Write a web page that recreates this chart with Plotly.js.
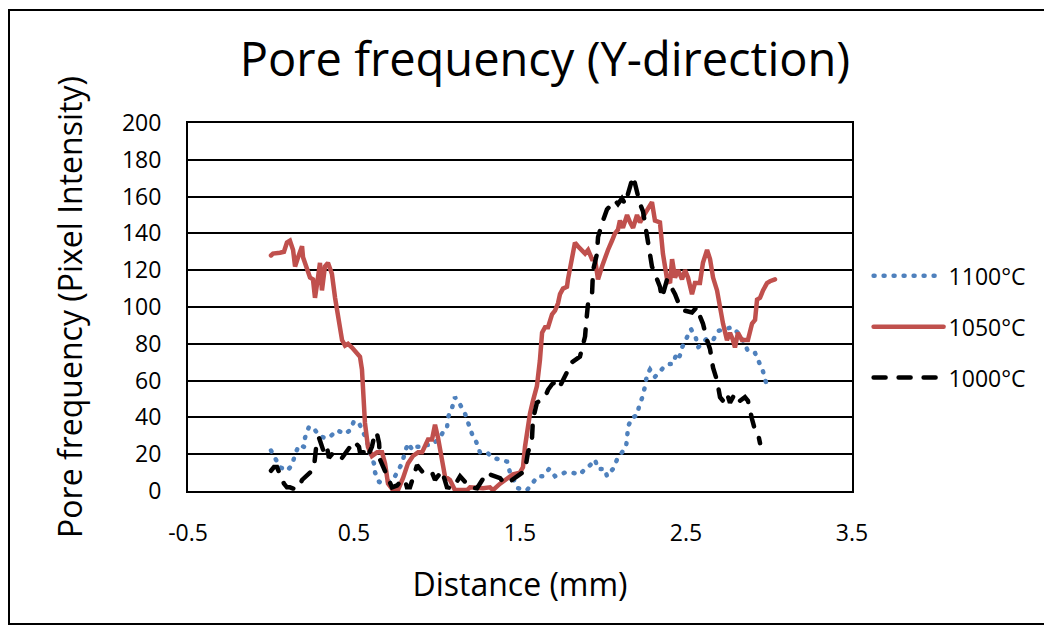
<!DOCTYPE html>
<html>
<head>
<meta charset="utf-8">
<script src="https://cdn.plot.ly/plotly-3.0.1.min.js"></script>
<style>
  html, body { margin: 0; padding: 0; background: #ffffff; overflow: hidden; }
  #wrap { position: relative; width: 1044px; height: 627px; overflow: hidden; }
  #chart { position: absolute; left: 0; top: 0; width: 1044px; height: 627px; }
  #frame { position: absolute; left: 8px; top: 9px; width: 1100px; height: 616px;
           border: 2px solid #000; pointer-events: none; box-sizing: border-box; }
  .js-line { stroke-linecap: round; }
</style>
</head>
<body>
<div id="wrap">
  <div id="chart"></div>
  <div id="frame"></div>
</div>
<script>
// ---- Data ----
const seriesNames = ["1100°C", "1050°C", "1000°C"];

const x1100 = [0.000,0.024,0.054,0.096,0.127,0.145,0.169,0.199,0.205,0.229,0.259,0.289,0.319,0.349,0.380,0.398,0.446,0.476,0.500,0.530,0.560,0.578,0.596,0.620,0.627,0.651,0.675,0.705,0.735,0.765,0.789,0.807,0.825,0.855,0.880,0.910,0.928,0.970,0.994,1.018,1.036,1.060,1.066,1.090,1.108,1.139,1.169,1.187,1.211,1.235,1.259,1.301,1.337,1.380,1.422,1.440,1.488,1.542,1.572,1.608,1.639,1.675,1.711,1.741,1.771,1.813,1.861,1.892,1.922,1.952,1.970,2.012,2.024,2.060,2.084,2.114,2.139,2.145,2.151,2.175,2.205,2.217,2.241,2.253,2.265,2.283,2.301,2.313,2.343,2.373,2.398,2.422,2.440,2.458,2.476,2.500,2.530,2.560,2.572,2.596,2.627,2.663,2.693,2.735,2.777,2.813,2.849,2.873,2.916,2.940,2.964,2.982];
const y1100 = [22,18,13,11,14,20,25,24,29,35,34,30,29,29,32,33,31,33,38,37,31,27,21,15,10,5,4,5,6,11,15,21,26,22,24,24,25,25,27,29,32,34,40,45,51,47,42,37,31,27,21,21,18,17,16,10,1.5,0.5,4,8,8,12,8,9,10,10,9,12,14,17,12,12,8,12,17,21,24,29,35,40,41,46,52,57,63,66,64,62,65,68,69,69,74,72,78,83,88,83,78,80,83,82,87,88,89,86,81,76,75,70,65,59];

const x1050 = [0.000,0.012,0.054,0.078,0.096,0.114,0.133,0.145,0.163,0.187,0.193,0.217,0.235,0.253,0.265,0.283,0.295,0.307,0.325,0.343,0.367,0.386,0.404,0.428,0.446,0.464,0.488,0.518,0.536,0.548,0.554,0.566,0.584,0.608,0.639,0.669,0.687,0.705,0.735,0.765,0.795,0.825,0.855,0.886,0.910,0.928,0.946,0.970,0.988,1.006,1.030,1.048,1.078,1.096,1.108,1.139,1.181,1.199,1.241,1.277,1.319,1.337,1.380,1.422,1.458,1.500,1.518,1.530,1.542,1.560,1.578,1.602,1.620,1.633,1.651,1.669,1.693,1.711,1.729,1.741,1.759,1.783,1.789,1.813,1.831,1.849,1.873,1.892,1.910,1.934,1.952,1.970,1.994,2.012,2.030,2.054,2.072,2.090,2.102,2.120,2.145,2.163,2.181,2.205,2.223,2.241,2.271,2.295,2.313,2.343,2.361,2.386,2.404,2.416,2.434,2.452,2.476,2.494,2.512,2.536,2.554,2.584,2.602,2.627,2.645,2.663,2.687,2.705,2.723,2.747,2.765,2.783,2.795,2.813,2.837,2.855,2.873,2.898,2.916,2.928,2.946,2.964,2.988,3.006,3.036];
const y1050 = [128,129,129.5,130,135,136,131,122,127,133,127,120,116,115,105,116,124,109,122,124,118,105,95,82,79,80,78,75,73,66,51,37,24,19,21,21,15,4,0.5,0.5,7,15,19,21,21,25,28,28,36,29,15,8,6,3,0.5,0.5,0.5,2,1.5,1.5,2,0.5,4,7,9,10,13,24,33,42,49,57,71,86,89,89,96,98,102,107,110,111,115,127,135,133,131,129,131,126,126,115,122,127,131,136,140,142,147,143,150,146,143,150,146,149,154,157,147,146,129,115,113,126,116,120,115,120,116,107,113,113,124,131,126,116,109,98,91,82,86,82,78,86,82,82,82,91,93,104,105,109,113,114,115];

const x1000 = [0.000,0.018,0.036,0.054,0.078,0.096,0.114,0.145,0.169,0.187,0.211,0.235,0.259,0.265,0.277,0.289,0.307,0.319,0.325,0.337,0.349,0.367,0.386,0.410,0.428,0.452,0.476,0.488,0.500,0.530,0.536,0.560,0.578,0.608,0.627,0.639,0.651,0.657,0.675,0.699,0.717,0.729,0.759,0.789,0.807,0.819,0.837,0.880,0.898,0.916,0.946,0.970,0.988,1.006,1.030,1.060,1.096,1.139,1.157,1.181,1.199,1.241,1.301,1.319,1.361,1.380,1.398,1.428,1.452,1.482,1.512,1.530,1.548,1.572,1.578,1.602,1.651,1.669,1.693,1.723,1.741,1.789,1.813,1.861,1.892,1.898,1.910,1.934,1.940,1.964,1.970,2.000,2.024,2.054,2.072,2.090,2.114,2.133,2.151,2.169,2.181,2.193,2.223,2.241,2.265,2.283,2.295,2.313,2.343,2.355,2.386,2.404,2.434,2.464,2.494,2.536,2.566,2.584,2.602,2.627,2.645,2.663,2.687,2.705,2.723,2.747,2.765,2.795,2.825,2.855,2.873,2.898,2.916,2.934,2.946];
const y1000 = [11,13,13,9,4,2,2,1,2,6,8,10,13,18,28,29,24,21,22,24,18,20,18,17,18,21,24,26,27,24,21,21,18,24,32,31,26,17,13,9,5,2,3,6,6,2,2,14,12,10,9,10,6,8,11,2,1.5,8,6,4,2,1.5,10,9,8,7,5,4,6,8,10,11,21,28,39,48,51,55,58,60,57,66,70,73,84,91,102,107,120,129,138,147,153,156,158,156,159,156,162,168,171,167,156,152,138,131,122,118,111,105,115,112,107,100,98,97,100,95,91,82,77,67,60,51,49,53,48,53,49,51,49,39,33,31,26];

const xTickVals = [-0.5, 0.5, 1.5, 2.5, 3.5];
const xTickText = ["-0.5", "0.5", "1.5", "2.5", "3.5"];
const yTickVals = [0, 20, 40, 60, 80, 100, 120, 140, 160, 180, 200];

const FONT = "'Open Sans', 'Noto Sans', sans-serif";

const traces = [
  { x: x1100, y: y1100, name: seriesNames[0], legendgroup: "a", type: "scatter", mode: "lines",
    line: { color: "#4F81BD", width: 4.5, dash: "1px,9px" } },
  { x: x1050, y: y1050, name: seriesNames[1], legendgroup: "b", type: "scatter", mode: "lines",
    line: { color: "#C0504D", width: 4.5, dash: "solid" } },
  { x: x1000, y: y1000, name: seriesNames[2], legendgroup: "c", type: "scatter", mode: "lines",
    line: { color: "#000000", width: 4.5, dash: "12px,13px" } }
];

const layout = {
  width: 1044, height: 627,
  paper_bgcolor: "#ffffff", plot_bgcolor: "#ffffff",
  margin: { l: 188, r: 192, t: 123, b: 136, pad: 0 },
  font: { family: FONT, color: "#000000", size: 23 },
  title: { text: "Pore frequency (Y-direction)", font: { family: FONT, size: 47, color: "#000" },
           x: 545/1044, xref: "container", xanchor: "center",
           y: 1 - 60/627, yref: "container", yanchor: "middle" },
  xaxis: {
    range: [-0.5, 3.5], tickvals: xTickVals, ticktext: xTickText,
    showgrid: false, zeroline: false, showline: true, mirror: true,
    linecolor: "#000", linewidth: 2, ticks: "", ticklabelstandoff: 20,
    tickfont: { family: FONT, size: 23, color: "#000" },
    title: { text: "Distance (mm)", font: { family: FONT, size: 32, color: "#000" }, standoff: 27 }
  },
  yaxis: {
    range: [0, 200], tickvals: yTickVals,
    showgrid: true, gridcolor: "#000", gridwidth: 2, zeroline: false,
    showline: true, mirror: true, linecolor: "#000", linewidth: 2, ticks: "",
    ticklabelstandoff: 20,
    tickfont: { family: FONT, size: 23, color: "#000" },
    title: { text: "Pore frequency (Pixel Intensity)", font: { family: FONT, size: 32, color: "#000" }, standoff: 30 }
  },
  showlegend: true,
  legend: {
    x: 1.025, xanchor: "left", y: 0.446, yanchor: "middle",
    traceorder: "grouped", tracegroupgap: 18, itemwidth: 70,
    font: { family: FONT, size: 23, color: "#000" },
    bgcolor: "rgba(0,0,0,0)", borderwidth: 0
  }
};

Plotly.newPlot("chart", traces, layout, { displayModeBar: false, staticPlot: true });
</script>
</body>
</html>
